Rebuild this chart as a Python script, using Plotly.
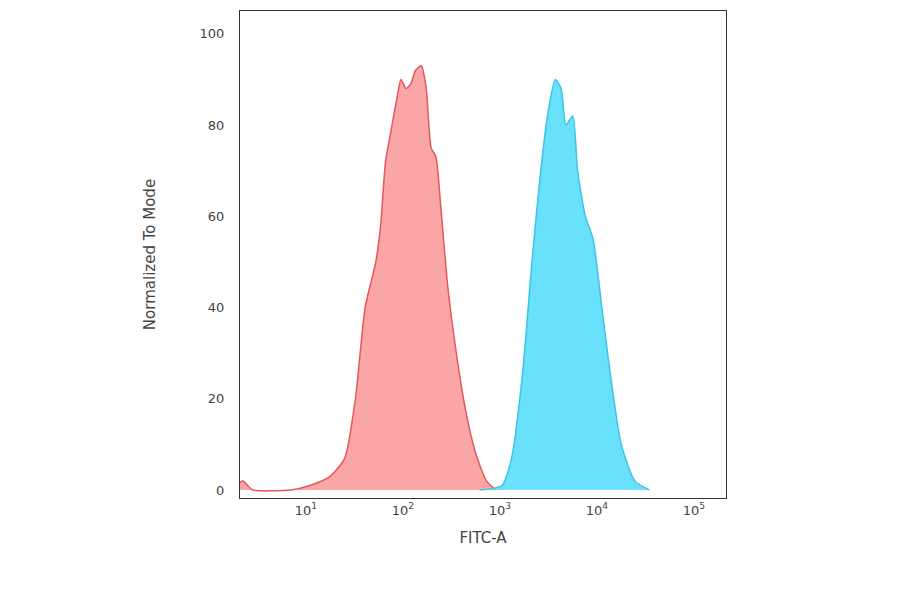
import plotly.graph_objects as go

red_logx = [0.30,0.35,0.40,0.45,0.84,1.04,1.25,1.40,1.51,1.61,1.72,1.77,1.82,1.87,1.93,1.98,2.03,2.08,2.13,2.19,2.24,2.29,2.34,2.39,2.46,2.55,2.65,2.75,2.86,2.96]
red_y = [1.5,2,1,0,0,1,3,7,20,40,50,58,72,78,85,90,88,89,92,93,88,75,73,62,45,30,17,8,2,0]
blue_logx = [2.79,3.02,3.12,3.23,3.33,3.41,3.49,3.57,3.63,3.68,3.75,3.80,3.88,3.96,4.05,4.14,4.25,4.39,4.54]
blue_y = [0,1,7,25,50,68,82,90,88,80,82,70,60,55,40,25,10,2,0]
tick_vals = [10, 100, 1000, 10000, 100000]
tick_text = ["10<sup>1</sup>", "10<sup>2</sup>", "10<sup>3</sup>", "10<sup>4</sup>", "10<sup>5</sup>"]
y_ticks = [0, 20, 40, 60, 80, 100]

fig = go.Figure()
fig.add_trace(go.Scatter(x=[10**v for v in red_logx], y=red_y, fill="tozeroy", mode="lines",
                         line=dict(color="#e8555a", width=1.5, shape="spline", smoothing=0.6), fillcolor="rgba(250,150,150,0.85)"))
fig.add_trace(go.Scatter(x=[10**v for v in blue_logx], y=blue_y, fill="tozeroy", mode="lines",
                         line=dict(color="#3cc3e8", width=1.5, shape="spline", smoothing=0.6), fillcolor="rgba(80,220,250,0.85)"))
fig.update_layout(
    width=900, height=594, showlegend=False, plot_bgcolor="white", paper_bgcolor="white",
    margin=dict(l=232, r=182, t=3, b=104),
    font=dict(family="DejaVu Sans", color="#444", size=13),
    xaxis=dict(type="log", range=[0.32, 5.33], tickvals=tick_vals, ticktext=tick_text,
               showgrid=False, showline=True, linecolor="#333", mirror=True, ticks="",
               title=dict(text="FITC-A", font=dict(size=15)), zeroline=False),
    yaxis=dict(range=[-1.75, 105], tickvals=y_ticks, showgrid=False, showline=True, linecolor="#333",
               mirror=True, ticks="", ticklabelstandoff=12, zeroline=False,
               title=dict(text="Normalized To Mode", font=dict(size=15), standoff=40)),
)
fig.write_html("out.html")
